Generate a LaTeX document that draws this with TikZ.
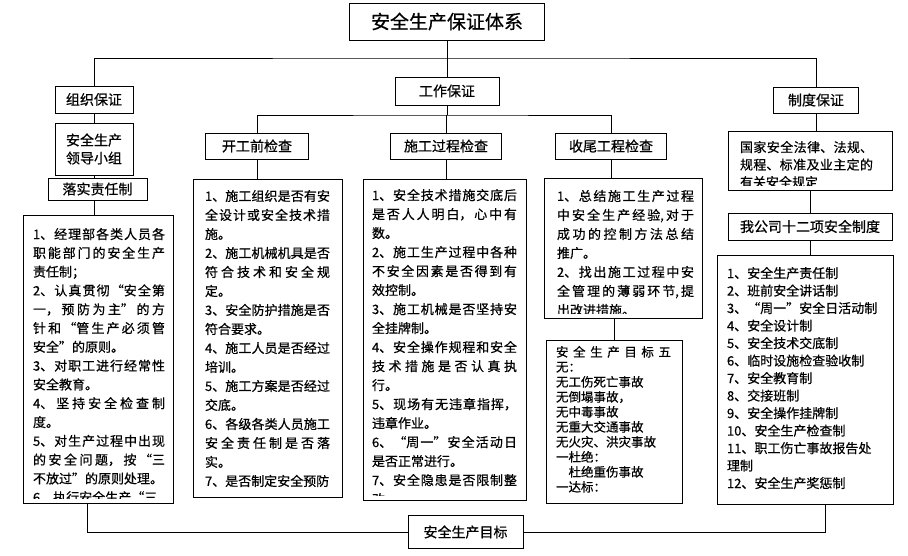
\documentclass[tikz,border=0pt]{standalone}
\usepackage{fontspec}
\setmainfont{Noto Sans CJK SC}[FakeBold=0.6]
\XeTeXlinebreaklocale "zh"
\XeTeXlinebreakskip=0pt plus 4pt
\tolerance=9999
\hbadness=10000
\hfuzz=20pt
\setlength{\parindent}{0pt}
\newcommand{\jbr}{\linebreak}

\tikzset{
  box/.style={draw, inner sep=0pt, align=center, font=\fontsize{14}{18}\selectfont},
  body/.style={anchor=north west, inner sep=0pt, align=justify, font=\fontsize{13}{18.8}\selectfont},
}

\begin{document}
\begin{tikzpicture}[x=1pt, y=-1pt, line width=0.9pt]
\useasboundingbox (0,0) rectangle (908,555);
% --- top level ---
\node[box, minimum width=195, minimum height=37, font=\fontsize{19}{22}\selectfont] (title) at (447,21.5) {安全生产保证体系};
\node[box, minimum width=78, minimum height=27] (zz) at (94,99.5) {组织保证};
\node[box, minimum width=104, minimum height=28] (gz) at (447,91) {工作保证};
\node[box, minimum width=85, minimum height=26] (zd) at (816,100) {制度保证};
\coordinate (top) at (447,58);
\coordinate (mid) at (447,115);
%
% --- organisation ---
\node[box, minimum width=78, minimum height=52] (ld) at (94,149) {安全生产\\领导小组};
\node[box, minimum width=99, minimum height=22] (lz) at (97.5,189) {落实责任制};
\node[box, minimum width=150, minimum height=288] (lc) at (98,359) {};
\begin{scope}
\clip (lc.north west) rectangle ([yshift=5]lc.south east);
\node[body, text width=132] (lct) at ([xshift=10, yshift=-13]lc.north west) {%
1、经理部各类人员各\jbr
职能部门的安全生产\jbr
责任制；\\
2、认真贯彻“安全第\jbr
一，预防为主”的方\jbr
针和“管生产必须管\jbr
安全”的原则。\\
3、对职工进行经常性\jbr
安全教育。\\
4、坚持安全检查制\jbr
度。\\
5、对生产过程中出现\jbr
的安全问题，按“三\jbr
不放过”的原则处理。\\
6、执行安全生产“三};
\end{scope}
%
% --- work: three checks ---
\node[box, minimum width=103, minimum height=26] (kg) at (257,146) {开工前检查};
\node[box, minimum width=111, minimum height=26] (sg) at (446,146) {施工过程检查};
\node[box, minimum width=111, minimum height=26] (sw) at (611,146) {收尾工程检查};
\node[box, minimum width=149, minimum height=318] (kgc) at (267.5,338) {};
\begin{scope}
\clip (kgc.north west) rectangle ([yshift=5]kgc.south east);
\node[body, text width=125, font=\fontsize{13}{19}\selectfont] (kgct) at ([xshift=12, yshift=-11]kgc.north west) {%
1、施工组织是否有安\jbr
全设计或安全技术措\jbr
施。\\
2、施工机械机具是否\jbr
符合技术和安全规\jbr
定。\\
3、安全防护措施是否\jbr
符合要求。\\
4、施工人员是否经过\jbr
培训。\\
5、施工方案是否经过\jbr
交底。\\
6、各级各类人员施工\jbr
安全责任制是否落\jbr
实。\\
7、是否制定安全预防};
\end{scope}
\node[box, minimum width=163, minimum height=321] (sgc) at (444.5,339.5) {};
\begin{scope}
\clip (sgc.north west) rectangle ([yshift=5]sgc.south east);
\node[body, text width=145, font=\fontsize{13}{19}\selectfont] (sgct) at ([xshift=9, yshift=-10]sgc.north west) {%
1、安全技术措施交底后\jbr
是否人人明白，心中有\jbr
数。\\
2、施工生产过程中各种\jbr
不安全因素是否得到有\jbr
效控制。\\
3、施工机械是否坚持安\jbr
全挂牌制。\\
4、安全操作规程和安全\jbr
技术措施是否认真执\jbr
行。\\
5、现场有无违章指挥，\jbr
违章作业。\\
6、“周一”安全活动日\jbr
是否正常进行。\\
7、安全隐患是否限制整\jbr
改。};
\end{scope}
\node[box, minimum width=158, minimum height=140] (swc) at (623,248) {};
\begin{scope}
\clip (swc.north west) rectangle ([yshift=5]swc.south east);
\node[body, text width=137, font=\fontsize{13}{19}\selectfont] (swct) at ([xshift=13, yshift=-12]swc.north west) {%
1、总结施工生产过程\jbr
中安全生产经验,对于\jbr
成功的控制方法总结\jbr
推广。\\
2、找出施工过程中安\jbr
全管理的薄弱环节,提\jbr
出改进措施。};
\end{scope}
\node[box, minimum width=136, minimum height=163] (wu) at (614,421.5) {};
\begin{scope}
\clip (wu.north west) rectangle ([yshift=3]wu.south east);
\node[body, text width=115, font=\fontsize{12.5}{15}\selectfont] (wut) at ([xshift=10, yshift=-6]wu.north west) {%
安全生产目标五\jbr
无：\\
无工伤死亡事故\\
无倒塌事故，\\
无中毒事故\\
无重大交通事故\\
无火灾、洪灾事故\\
一杜绝：\\
\hspace*{1em}杜绝重伤事故\\
一达标：};
\end{scope}
%
% --- rules ---
\node[box, minimum width=164, minimum height=59] (gj) at (810,160.5) {};
\begin{scope}
\clip (gj.north west) rectangle ([yshift=5]gj.south east);
\node[body, text width=133, font=\fontsize{13}{17.5}\selectfont] (gjt) at ([xshift=12, yshift=-10]gj.north west) {%
国家安全法律、法规、\jbr
规程、标准及业主定的\jbr
有关安全规定};
\end{scope}
\node[box, minimum width=164, minimum height=27] (wg) at (810,226.5) {我公司十二项安全制度};
\node[box, minimum width=176, minimum height=249] (rc) at (805,379.5) {};
\begin{scope}
\clip (rc.north west) rectangle ([yshift=5]rc.south east);
\node[body, text width=158, font=\fontsize{13}{17.5}\selectfont] (rct) at ([xshift=10, yshift=-12]rc.north west) {%
1、安全生产责任制\\
2、班前安全讲话制\\
3、“周一”安全日活动制\\
4、安全设计制\\
5、安全技术交底制\\
6、临时设施检查验收制\\
7、安全教育制\\
8、交接班制\\
9、安全操作挂牌制\\
10、安全生产检查制\\
11、职工伤亡事故报告处\\
理制\\
12、安全生产奖惩制};
\end{scope}
%
% --- goal ---
\node[box, minimum width=115, minimum height=33] (mb) at (465.5,532) {安全生产目标};
%
% --- connectors ---
\draw (title.south) -- (gz.north);
\draw (zz.north) |- (top) -| (zd.north);
\draw (gz.south) -- (mid);
\draw (kg.north) |- (mid) -| (sw.north);
\draw (sg.north) -- (sg.north |- mid);
\draw (zz.south) -- (ld.north);
\draw (ld.south) -- (ld.south |- lz.north);
\draw (ld.south |- lz.south) -- (ld.south |- lc.north);
\draw (kg.south) -- (kg.south |- kgc.north);
\draw (sg.south) -- (sg.south |- sgc.north);
\draw (sw.south) -- (sw.south |- swc.north);
\draw (swc.south -| wu.north) -- (wu.north);
\draw (zd.south) -- (zd.south |- gj.north);
\draw (gj.south) -- (wg.north);
\draw (wg.south) -- (wg.south |- rc.north);
\draw ([xshift=-11]lc.south) |- (mb.west);
\draw ([xshift=20]rc.south) |- (mb.east);
%
\end{tikzpicture}
\end{document}
